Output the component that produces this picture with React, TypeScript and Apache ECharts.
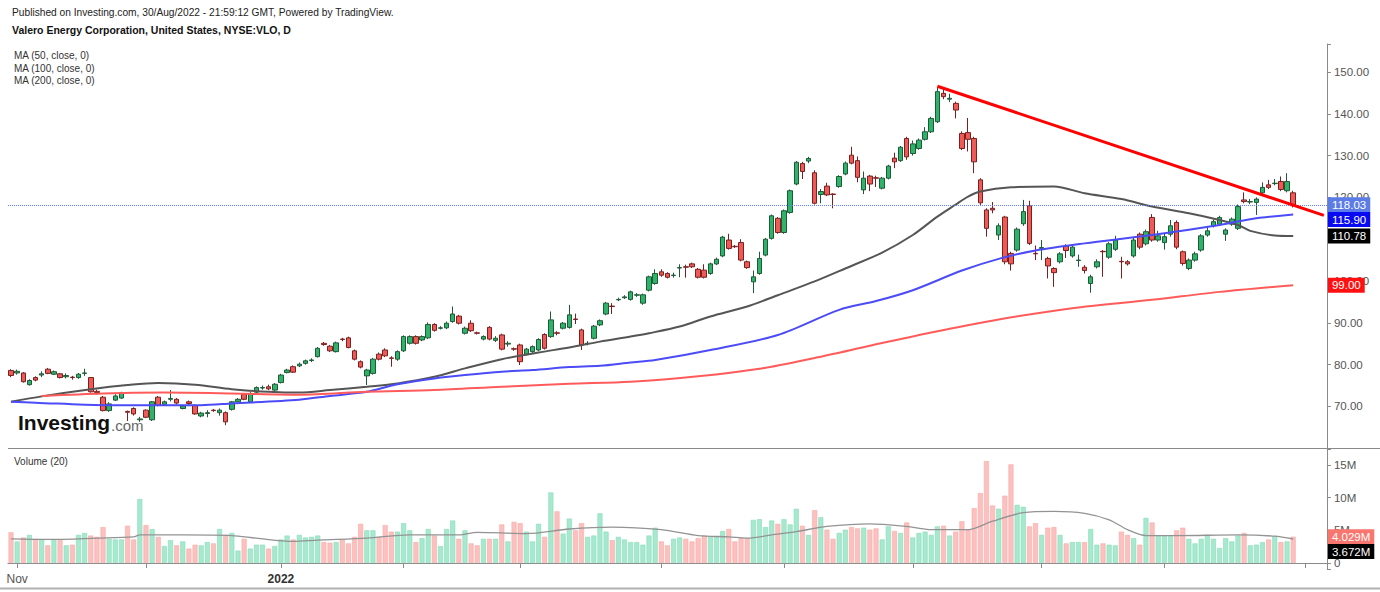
import React, { useEffect, useRef } from 'react';
import * as echarts from 'echarts';

// ---------- categories (trading days) ----------
const FIRST_DAY = '2021-10-29';
const SLOT_COUNT = 215; // 210 sessions + 5 empty future slots on the right
const HOLIDAYS = ['2021-11-25', '2021-12-24', '2022-01-17', '2022-02-21', '2022-04-15', '2022-05-30', '2022-06-20', '2022-07-04', '2022-09-05'];
const X_TICK_LABELS: Record<string, string> = { '2021-11-01': 'Nov', '2022-01-03': '2022' };
// price-axis labels that the reference shows (110.00 lies fully under the MA tags there)
const PRICE_TICK_LABELS = [70, 80, 90, 100, 120, 130, 140, 150];
const VOLUME_TICK_LABELS = [0, 5, 10, 15];

// ---------- price candles [open, close, low, high] ----------
const ohlc: number[][] = [
  [78.6,77.4,77.0,78.9],[78.0,78.4,77.6,78.8],[78.0,75.9,75.7,78.2],[75.2,76.2,75.0,76.5],[76.9,76.3,76.0,77.2],
  [77.5,77.8,77.0,78.4],[78.9,77.9,77.7,79.2],[77.7,78.3,77.5,78.6],[77.8,76.9,76.7,78.0],[77.1,77.4,76.7,77.9],
  [77.0,76.9,76.4,77.3],[76.9,77.7,76.6,78.0],[77.9,78.0,77.3,79.0],[76.9,73.5,73.3,77.0],[73.6,73.3,72.8,74.0],
  [72.2,69.0,68.8,72.5],[69.0,70.6,68.7,71.0],[71.5,72.5,71.3,72.9],[72.0,73.3,71.8,73.5],[68.8,68.6,66.5,69.0],
  [69.5,68.2,67.8,69.8],[66.8,67.0,66.3,67.5],[69.1,67.4,67.2,69.3],[66.8,71.1,66.5,71.3],[72.2,70.3,70.0,72.5],
  [70.5,71.1,70.2,71.4],[71.7,71.9,71.2,73.9],[71.7,70.8,70.5,72.0],[69.5,70.1,69.3,70.4],[71.1,70.7,70.4,71.4],
  [70.2,68.2,68.0,70.5],[67.7,68.4,67.4,68.7],[68.3,68.5,67.4,69.1],[69.1,69.0,68.7,69.4],[68.5,69.1,67.8,69.5],
  [68.5,66.3,65.5,68.8],[69.3,71.1,69.0,71.3],[71.1,71.7,70.9,72.0],[72.9,71.7,71.5,73.2],[71.1,73.1,70.9,73.4],
  [73.4,74.5,73.2,74.8],[74.4,74.5,74.0,75.0],[74.7,74.2,73.9,75.2],[73.9,75.3,73.7,75.6],[75.7,77.5,75.5,77.8],
  [78.1,78.7,77.9,79.0],[79.5,78.2,78.0,79.8],[79.7,80.1,79.4,80.5],[80.3,80.9,80.0,81.2],[81.0,81.1,80.6,81.5],
  [81.9,83.9,81.7,84.2],[85.1,84.8,84.5,85.4],[84.4,83.3,83.0,84.7],[83.1,85.2,82.9,85.5],[86.1,86.0,85.6,86.4],
  [86.4,84.1,83.9,86.7],[83.3,81.3,81.0,83.6],[80.7,79.4,79.1,81.0],[77.3,78.7,75.1,79.0],[77.9,81.3,77.6,81.6],
  [82.5,81.3,81.0,82.9],[83.5,82.1,81.8,83.9],[81.6,81.5,79.5,82.0],[81.3,83.1,80.9,83.4],[83.3,86.7,83.0,87.0],
  [85.1,86.7,84.8,87.0],[86.7,85.1,84.8,87.0],[85.9,86.7,85.6,87.0],[86.4,89.6,86.1,90.1],[89.6,88.2,87.9,89.9],
  [88.7,88.8,88.4,89.2],[88.8,89.9,88.5,90.3],[90.3,92.1,90.0,93.9],[91.6,89.9,89.6,91.9],[87.5,88.7,87.2,89.1],
  [89.9,88.1,87.8,90.6],[87.6,87.5,87.2,87.9],[86.1,86.7,85.8,87.0],[88.9,86.1,85.8,89.2],[85.8,86.3,85.4,86.8],
  [87.1,83.7,83.4,87.4],[84.9,85.1,84.3,85.6],[83.8,83.7,83.3,84.1],[84.7,80.7,79.9,85.0],[82.5,83.7,82.2,84.0],
  [83.1,84.3,82.8,84.6],[83.5,86.0,83.2,86.3],[87.2,83.9,83.6,87.5],[86.7,90.7,86.4,92.7],[87.6,87.5,87.0,88.0],
  [88.7,89.9,88.4,90.2],[88.9,91.9,88.6,94.3],[90.9,90.8,89.7,92.2],[88.3,84.7,83.5,88.6],[85.0,85.1,84.6,85.6],
  [86.3,89.2,86.0,89.5],[89.5,90.5,89.2,90.8],[92.1,94.7,91.8,95.0],[94.0,93.9,92.1,94.7],[95.5,95.6,95.2,96.0],
  [96.0,96.2,95.7,96.6],[95.6,97.4,95.3,97.7],[96.6,96.7,96.2,97.1],[94.7,96.7,94.3,97.0],[97.8,101.0,97.5,101.3],
  [99.4,101.8,99.1,102.8],[102.2,101.4,101.0,102.8],[101.8,100.9,100.6,102.1],[101.3,101.4,100.8,102.0],[103.1,103.2,100.9,104.0],
  [103.4,103.3,100.8,103.9],[104.1,103.4,103.1,104.4],[102.8,100.9,100.6,103.1],[102.6,100.9,100.6,104.0],[101.8,104.1,101.5,104.4],
  [104.1,105.2,103.8,105.6],[106.0,110.5,105.7,110.8],[109.8,107.8,107.5,111.3],[108.3,108.2,107.9,108.6],[109.2,105.0,104.7,110.0],
  [104.6,103.2,102.9,104.9],[99.8,101.0,97.1,102.5],[101.8,105.4,101.5,107.0],[106.2,110.0,105.9,110.3],[110.2,115.6,109.9,115.9],
  [115.0,111.6,111.3,115.3],[111.6,116.8,111.3,117.1],[116.4,121.6,116.1,121.9],[123.2,128.4,122.9,128.7],[128.1,126.2,124.4,128.5],
  [128.7,129.3,128.2,129.7],[125.9,118.6,118.3,126.5],[120.7,121.4,118.6,122.0],[122.7,120.6,120.3,123.5],[120.8,120.7,117.4,121.0],
  [122.6,125.0,122.3,125.3],[125.6,128.2,125.3,128.6],[130.1,128.2,127.9,132.1],[128.8,124.8,123.6,129.8],[121.8,124.6,120.8,126.2],
  [125.1,123.2,121.5,125.4],[124.7,124.6,122.5,125.2],[122.2,124.6,121.9,124.9],[124.6,127.5,124.3,127.8],[129.4,128.5,127.0,130.7],
  [128.8,132.0,128.5,132.3],[134.1,129.7,129.0,134.5],[130.5,132.8,130.0,133.6],[131.7,133.7,131.4,134.1],[133.9,135.7,133.6,136.8],
  [135.7,138.9,135.4,139.3],[138.1,145.3,137.8,146.3],[144.9,144.1,143.5,145.9],[143.5,143.7,142.8,144.8],[142.5,140.9,138.9,142.9],
  [135.3,131.7,131.3,135.8],[135.5,133.9,131.0,139.0],[134.1,128.5,125.8,134.5],[124.2,118.7,118.2,124.6],[117.0,112.6,110.6,117.4],
  [117.4,117.0,116.2,118.9],[111.0,113.2,109.8,113.8],[115.3,104.6,104.0,115.6],[106.6,104.1,102.5,107.0],[107.4,112.4,107.0,112.8],
  [113.7,116.6,113.2,119.4],[118.0,109.0,108.6,119.2],[106.6,106.5,105.0,108.5],[107.8,108.0,105.0,109.8],[105.4,103.6,100.6,105.8],
  [103.0,102.0,98.6,103.3],[104.6,106.5,104.2,106.9],[108.4,107.3,105.5,108.8],[106.0,108.1,105.6,108.6],[104.9,105.0,103.4,106.3],
  [103.3,102.5,101.8,103.8],[99.4,101.0,97.2,101.5],[103.4,104.6,103.0,105.2],[107.1,107.0,101.0,107.4],[105.7,108.9,105.3,109.3],
  [107.6,109.8,107.2,110.8],[104.7,104.6,100.6,105.8],[104.6,104.1,103.7,105.0],[106.0,109.8,105.6,110.3],[111.2,108.1,107.6,111.6],
  [108.9,111.8,108.5,112.3],[115.2,109.8,109.4,116.0],[109.8,110.8,109.4,112.0],[109.2,110.6,107.5,111.3],[111.2,113.2,110.6,114.6],
  [114.0,108.1,107.6,114.5],[107.0,104.2,103.7,107.3],[103.0,105.0,102.6,105.4],[105.0,106.5,104.6,107.0],[107.4,110.8,107.0,111.2],
  [111.0,112.0,110.6,112.9],[113.2,114.2,112.8,114.7],[113.6,115.2,113.2,115.6],[111.2,112.2,109.6,112.6],[113.6,114.8,113.2,115.2],
  [112.6,117.8,112.2,118.3],[119.4,119.0,118.6,121.2],[118.9,119.0,118.4,119.6],[118.8,119.6,115.8,120.0],[121.1,122.4,120.8,123.6],
  [123.0,122.4,122.0,124.2],[123.3,123.4,122.9,124.4],[123.8,121.9,121.5,125.0],[121.6,123.8,121.2,125.8],[121.1,118.03,117.6,121.6],
];

// ---------- volumes (millions) ----------
const volumes: number[] = [
  4.7,3.3,3.9,4.3,3.7,3.6,2.7,3.6,3.5,2.7, 2.8,4.3,4.6,4.2,4.0,5.5,3.7,3.6,3.6,5.7,
  3.6,9.8,5.8,5.2,4.0,2.6,3.5,2.7,3.3,2.2, 2.8,2.7,3.2,3.0,5.2,4.3,4.6,1.9,3.7,2.2,
  2.8,2.8,2.2,2.6,3.6,4.2,3.6,4.3,3.9,4.0, 4.2,3.2,3.1,3.2,3.6,3.0,4.0,6.0,5.0,5.0,
  4.0,5.8,4.8,4.8,6.1,5.0,3.2,3.8,5.2,4.2, 2.6,5.2,6.5,3.7,5.0,3.0,2.7,3.7,3.7,3.7,
  5.9,3.3,6.3,6.1,4.8,3.3,6.0,4.0,10.8,7.9, 4.5,6.8,5.0,6.1,4.0,4.2,7.6,4.8,3.5,4.0,
  3.6,3.2,3.2,2.8,4.2,5.4,3.3,2.7,3.7,3.9, 3.7,3.3,3.8,4.2,4.0,4.0,4.9,5.2,3.3,3.8,
  3.8,6.6,6.7,5.5,6.5,6.0,6.7,5.9,8.3,5.7, 4.3,8.1,7.0,5.1,3.7,4.6,5.1,5.5,5.3,5.4,
  5.1,5.3,3.6,5.6,4.9,4.6,6.2,3.9,4.6,4.8, 4.3,5.6,5.7,4.2,4.8,6.4,5.1,8.4,10.7,15.6,
  8.8,8.3,10.3,15.1,8.9,8.6,5.6,6.1,4.3,5.4, 5.5,4.3,3.0,3.2,3.2,3.2,5.2,2.8,3.0,2.8,
  2.7,4.8,4.3,3.8,2.8,6.9,6.2,4.2,4.2,4.1, 5.0,5.4,3.7,3.0,3.7,4.3,3.7,2.3,3.8,3.3,
  4.2,4.6,2.7,2.8,3.2,3.6,4.1,3.2,3.3,4.029,
];

// ---------- moving averages: [bar index, value] ----------
const ma50Points: number[][] = [
  [0,71.1],[5,72.4],[13,74.1],[19,75.1],[24,75.6],[30,75.2],[36,74.1],[42,73.5],[47,73.3],[52,73.9],
  [58,74.7],[63,75.5],[69,77.1],[74,79.1],[80,81.3],[86,82.9],[91,84.1],[96,85.5],[101,86.7],[104,87.5],
  [109,89.1],[114,91.5],[120,93.9],[125,96.6],[131,99.9],[136,103.0],[142,106.8],[147,111.0],[151,115.4],[154,118.3],
  [156,120.2],[158,121.4],[163,122.4],[170,122.6],[175,121.0],[181,119.6],[186,117.8],[192,116.2],[197,114.6],[200,113.4],
  [202,112.0],[206,110.9],[209,110.78],
];
const ma100Points: number[][] = [
  [0,71.1],[4,70.9],[15,70.3],[31,70.3],[36,70.7],[47,71.6],[52,72.5],[58,73.5],[63,75.3],[69,76.7],
  [74,77.5],[80,78.3],[85,78.7],[91,79.4],[96,79.7],[101,80.5],[105,81.1],[114,83.5],[125,87.1],[135,93.1],
  [141,95.2],[147,97.8],[155,102.5],[161,105.3],[167,107.3],[175,109.0],[186,111.0],[197,113.4],[202,114.8],[209,115.9],
];
const ma200Points: number[][] = [
  [5,72.5],[15,73.1],[25,73.3],[36,73.1],[47,72.8],[58,73.5],[69,73.9],[80,74.7],[91,75.4],[101,75.9],
  [112,77.2],[122,79.0],[131,81.6],[140,84.5],[150,87.7],[161,90.8],[173,93.5],[186,95.5],[197,97.4],[209,99.0],
];
const volMaPoints: number[][] = [
  [0,3.7],[6,3.6],[14,3.8],[20,4.0],[21,4.3],[28,4.3],[36,4.2],[40,3.8],[46,3.3],[50,3.5],
  [58,3.8],[65,4.3],[73,4.3],[76,4.7],[84,4.5],[91,5.2],[98,5.5],[106,5.1],[112,4.2],[117,4.0],
  [120,3.8],[124,4.3],[128,4.8],[133,5.6],[140,6.0],[146,5.6],[150,5.1],[156,5.1],[160,6.4],[165,7.7],
  [170,7.9],[175,7.6],[179,6.6],[182,5.1],[185,4.2],[190,4.2],[200,4.3],[206,4.1],[209,3.672],
];

// ---------- drawn trend line (annotation) ----------
const TREND_START = { index: 151, price: 146.6 };
const TREND_END = { index: 214, price: 115.7 };

const FONT = 'Arial, "Liberation Sans", Helvetica, sans-serif';

function buildTradingDays(start: string, count: number, holidays: string[]): string[] {
  const out: string[] = [];
  const d = new Date(start + 'T12:00:00Z');
  while (out.length < count) {
    const dow = d.getUTCDay();
    const s = d.toISOString().slice(0, 10);
    if (dow !== 0 && dow !== 6 && holidays.indexOf(s) < 0) out.push(s);
    d.setUTCDate(d.getUTCDate() + 1);
  }
  return out;
}

function sparse(points: number[][], n: number): (number | null)[] {
  const arr: (number | null)[] = new Array(n).fill(null);
  points.forEach(([i, v]) => { arr[i] = v; });
  return arr;
}

function tag(text: string, bg: string, dy = 0) {
  return {
    show: true,
    position: 'end',
    distance: 1,
    formatter: text,
    backgroundColor: bg,
    color: '#fff',
    fontSize: 11.5,
    fontFamily: FONT,
    padding: [2, 4, 1, 4],
    offset: [0, dy],
  };
}

function buildOption() {
  const cats = buildTradingDays(FIRST_DAY, SLOT_COUNT, HOLIDAYS);
  const n = ohlc.length;
  const lastClose = ohlc[n - 1][1];
  const lastVol = volumes[n - 1];
  const ma50Last = ma50Points[ma50Points.length - 1][1];
  const ma100Last = ma100Points[ma100Points.length - 1][1];
  const ma200Last = ma200Points[ma200Points.length - 1][1];
  const volMaLast = volMaPoints[volMaPoints.length - 1][1];
  const isMonthStart = (idx: number) => idx > 0 && cats[idx].slice(0, 7) !== cats[idx - 1].slice(0, 7);
  const hidden = { color: 'rgba(0,0,0,0)', width: 0 };
  const isLabel = (v: number, list: number[]) => list.some((t) => Math.abs(v - t) < 1e-6);

  const gridLeft = 7.93;
  const gridWidth = 1319;

  return {
    animation: false,
    backgroundColor: '#ffffff',
    textStyle: { fontFamily: FONT },
    grid: [
      { left: gridLeft, width: gridWidth, top: 44, height: 404.2 },
      { left: gridLeft, width: gridWidth, top: 449, height: 120 },
    ],
    xAxis: [
      { type: 'category', gridIndex: 0, data: cats, boundaryGap: true, show: false },
      {
        type: 'category', gridIndex: 1, data: cats, boundaryGap: true,
        axisLine: { show: true, lineStyle: { color: '#8a8a8a', width: 1 } },
        axisTick: { show: true, alignWithLabel: true, length: 5, interval: (i: number) => isMonthStart(i), lineStyle: { color: '#8a8a8a' } },
        axisLabel: {
          interval: (_i: number, v: string) => X_TICK_LABELS[v] !== undefined,
          formatter: (v: string) => {
            const t = X_TICK_LABELS[v];
            if (!t) return '';
            return /^\d{4}$/.test(t) ? '{y|' + t + '}' : '{m|' + t + '}';
          },
          margin: 4,
          rich: {
            m: { fontSize: 12, color: '#555', fontFamily: FONT },
            y: { fontSize: 12, color: '#333', fontWeight: 'bold', fontFamily: FONT },
          },
        },
        splitLine: { show: false },
      },
    ],
    yAxis: [
      {
        type: 'value', gridIndex: 0, position: 'right', min: 60, max: 156.7, interval: 10,
        axisLine: { show: true, lineStyle: { color: '#8a8a8a' } },
        axisTick: { show: true, length: 4, lineStyle: { color: '#8a8a8a' } },
        splitLine: { show: false },
        axisLabel: {
          color: '#555', fontSize: 11.5, fontFamily: FONT, margin: 7,
          formatter: (v: number) => (isLabel(v, PRICE_TICK_LABELS) ? Math.round(v).toFixed(2) : ''),
        },
      },
      {
        type: 'value', gridIndex: 1, position: 'right', min: -0.92, max: 17.45,
        minInterval: 5, maxInterval: 5, splitNumber: 4,
        axisLine: { show: true, lineStyle: { color: '#8a8a8a' } },
        axisTick: { show: true, length: 4, lineStyle: { color: '#8a8a8a' } },
        splitLine: { show: false },
        axisLabel: {
          color: '#555', fontSize: 11.5, fontFamily: FONT, margin: 7,
          formatter: (v: number) => {
            if (!isLabel(v, VOLUME_TICK_LABELS)) return '';
            const r = Math.round(v);
            return r === 0 ? '0' : r + 'M';
          },
        },
      },
    ],
    series: [
      {
        type: 'candlestick', name: 'VLO', xAxisIndex: 0, yAxisIndex: 0,
        data: ohlc, barWidth: 5, clip: false,
        itemStyle: { color: '#2fb36b', color0: '#ee5a55', borderColor: '#1f5a38', borderColor0: '#7b2020', borderWidth: 1 },
        markLine: {
          symbol: ['none', 'none'], silent: true, animation: false,
          data: [
            { yAxis: lastClose, lineStyle: { color: '#5d7fee', type: 'dotted', width: 1 }, label: tag(lastClose.toFixed(2), '#5b7be6', -1) },
            [
              { coord: [cats[TREND_START.index], TREND_START.price], lineStyle: { color: '#ff0000', width: 3, type: 'solid' }, label: { show: false } },
              { coord: [cats[TREND_END.index], TREND_END.price], lineStyle: { color: '#ff0000', width: 3, type: 'solid' }, label: { show: false } },
            ],
          ],
        },
      },
      {
        type: 'line', name: 'MA50', xAxisIndex: 0, yAxisIndex: 0, data: sparse(ma50Points, n),
        showSymbol: false, connectNulls: true, smooth: 0.3, clip: false,
        lineStyle: { color: '#555555', width: 2 },
        markLine: { symbol: ['none', 'none'], silent: true, data: [{ yAxis: ma50Last, lineStyle: hidden, label: tag(ma50Last.toFixed(2), '#000000', 0) }] },
      },
      {
        type: 'line', name: 'MA100', xAxisIndex: 0, yAxisIndex: 0, data: sparse(ma100Points, n),
        showSymbol: false, connectNulls: true, smooth: 0.3, clip: false,
        lineStyle: { color: '#4b4bf7', width: 2 },
        markLine: { symbol: ['none', 'none'], silent: true, data: [{ yAxis: ma100Last, lineStyle: hidden, label: tag(ma100Last.toFixed(2), '#0a0af2', 5) }] },
      },
      {
        type: 'line', name: 'MA200', xAxisIndex: 0, yAxisIndex: 0, data: sparse(ma200Points, n),
        showSymbol: false, connectNulls: true, smooth: 0.3, clip: false,
        lineStyle: { color: '#ff5b5b', width: 2 },
        markLine: { symbol: ['none', 'none'], silent: true, data: [{ yAxis: ma200Last, lineStyle: hidden, label: tag(ma200Last.toFixed(2), '#ff1010', 0) }] },
      },
      {
        type: 'bar', name: 'Volume', xAxisIndex: 1, yAxisIndex: 1, barWidth: 5, clip: false,
        data: volumes.map((v, i) => {
          const up = ohlc[i][1] >= ohlc[i][0];
          return { value: v, itemStyle: { color: up ? '#a6e9cf' : '#fcc1bf', borderColor: up ? '#86dcb8' : '#f7a9a6', borderWidth: 0.6 } };
        }),
        markLine: { symbol: ['none', 'none'], silent: true, data: [{ yAxis: lastVol, lineStyle: hidden, label: tag(lastVol.toFixed(3) + 'M', '#f8766e', 0) }] },
      },
      {
        type: 'line', name: 'Volume MA', xAxisIndex: 1, yAxisIndex: 1, data: sparse(volMaPoints, n),
        showSymbol: false, connectNulls: true, smooth: 0.3, clip: false,
        lineStyle: { color: '#939393', width: 1.3 },
        markLine: { symbol: ['none', 'none'], silent: true, data: [{ yAxis: volMaLast, lineStyle: hidden, label: tag(volMaLast.toFixed(3) + 'M', '#000000', 12.5) }] },
      },
    ],
    graphic: [
      { type: 'line', shape: { x1: 8, y1: 448.5, x2: 1380, y2: 448.5 }, style: { stroke: '#8a8a8a', lineWidth: 1 } },
      { type: 'line', shape: { x1: 0, y1: 588.5, x2: 1380, y2: 588.5 }, style: { stroke: '#b0b0b0', lineWidth: 2 } },
      { type: 'text', x: 12, y: 12.5, style: { text: 'Published on Investing.com, 30/Aug/2022 - 21:59:12 GMT, Powered by TradingView.', fill: '#222', fontSize: 10.2, fontFamily: FONT, verticalAlign: 'middle' } },
      { type: 'text', x: 12, y: 29.5, style: { text: 'Valero Energy Corporation, United States, NYSE:VLO, D', fill: '#111', fontSize: 10.5, fontWeight: 'bold', fontFamily: FONT, verticalAlign: 'middle' } },
      { type: 'text', x: 14, y: 55.5, style: { text: 'MA (50, close, 0)', fill: '#333', fontSize: 10, fontFamily: FONT, verticalAlign: 'middle' } },
      { type: 'text', x: 14, y: 68, style: { text: 'MA (100, close, 0)', fill: '#333', fontSize: 10, fontFamily: FONT, verticalAlign: 'middle' } },
      { type: 'text', x: 14, y: 80.5, style: { text: 'MA (200, close, 0)', fill: '#333', fontSize: 10, fontFamily: FONT, verticalAlign: 'middle' } },
      { type: 'text', x: 14, y: 461, style: { text: 'Volume (20)', fill: '#333', fontSize: 10, fontFamily: FONT, verticalAlign: 'middle' } },
      { type: 'text', x: 18, y: 433, style: { text: 'Investing', fill: '#111', fontSize: 21, fontWeight: 'bold', fontFamily: FONT, verticalAlign: 'bottom' } },
      { type: 'text', x: 111, y: 433, style: { text: '.com', fill: '#666', fontSize: 15, fontFamily: FONT, verticalAlign: 'bottom' } },
    ],
  };
}

export default function App() {
  const ref = useRef<HTMLDivElement>(null);
  useEffect(() => {
    if (!ref.current) return;
    const chart = echarts.init(ref.current, null, { renderer: 'svg' });
    chart.setOption(buildOption() as any);
    return () => chart.dispose();
  }, []);
  return <div ref={ref} style={{ position: 'fixed', left: 0, top: 0, width: 1380, height: 592, background: '#fff' }} />;
}
